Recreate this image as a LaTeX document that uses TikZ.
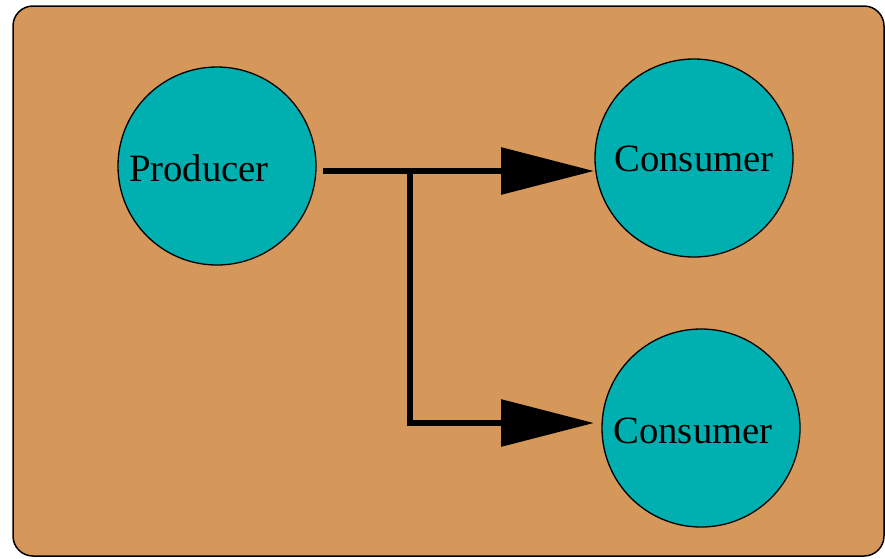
\documentclass[tikz,border=0pt]{standalone}
\usepackage{fontspec}
\setmainfont{Liberation Serif}
\usetikzlibrary{arrows.meta}
\definecolor{boxorange}{RGB}{213,151,90}
\definecolor{unitteal}{RGB}{0,176,176}
\tikzset{
  unit/.style={circle,draw=black,line width=1.3pt,fill=unitteal,minimum size=198pt,inner sep=0pt},
  lbl/.style={anchor=base,inner sep=0pt,font=\fontsize{38.7}{46}\selectfont},
  flow/.style={line width=6pt,-{Triangle[length=93pt,width=46pt]}}
}
\begin{document}
\begin{tikzpicture}[x=1pt,y=-1pt]
   \useasboundingbox (0,0) rectangle (885,558);
   \filldraw[fill=boxorange,draw=black,line width=1.5pt,rounded corners=20pt] (13,6) rectangle (884,556);
   \node[unit] (prod)  at (217,166) {};
   \node[unit] (cons1) at (694,158) {};
   \node[unit] (cons2) at (701,428) {};
   \node[lbl] (prodtxt)  at (199,181) {Producer};
   \node[lbl] (cons1txt) at (694,171) {Consumer};
   \node[lbl] (cons2txt) at (693,443) {Consumer};
   \coordinate (src)  at (323,171);
   \coordinate (fork) at (410,171);
   \coordinate (tip1) at (594,171);
   \coordinate (tip2) at (594,423);
   \draw[flow] (src) -- (tip1);
   \draw[flow] (fork) |- (tip2);
\end{tikzpicture}
\end{document}
